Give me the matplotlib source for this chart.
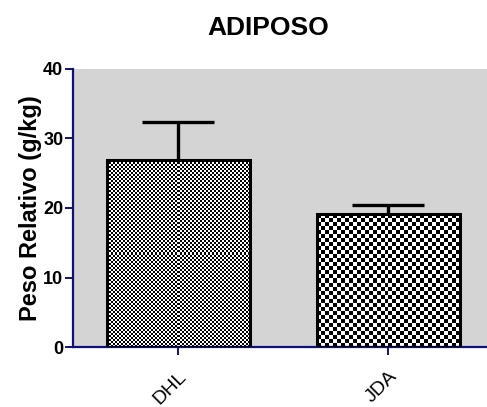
import numpy as np
import matplotlib
matplotlib.use("Agg")
import matplotlib.pyplot as plt

plt.rcParams['font.family'] = ['Liberation Sans', 'DejaVu Sans']

groups = ["DHL", "JDA"]
means = [26.9, 19.1]
errs = [5.5, 1.4]
cells = [2.0, 4.0]   # checker cell size in pixels for each bar

navy = "#10107a"

fig = plt.figure(figsize=(4.87, 4.07), dpi=100)
ax = fig.add_axes([0.150, 0.1474, 0.850, 0.6831])
ax.set_facecolor("#d4d4d4")

x = np.arange(len(groups))
bars = ax.bar(x, means, width=0.68, color="none", edgecolor="black",
              linewidth=2.2, zorder=3)
eb = ax.errorbar(x, means, yerr=[[0, 0], errs], fmt="none", ecolor="black",
                 elinewidth=2.4, capsize=26, capthick=2.4, zorder=4)
eb[1][0].set_visible(False)  # hide lower caps

ax.set_xlim(-0.5, 1.47)
ax.set_ylim(0, 40)
ax.set_yticks([0, 10, 20, 30, 40])

# checkerboard fill, clipped to each bar
fig.canvas.draw()
for b, c in zip(bars, cells):
    x0, y0 = b.get_x(), b.get_y()
    w, h = b.get_width(), b.get_height()
    p0 = ax.transData.transform((x0, y0))
    p1 = ax.transData.transform((x0 + w, y0 + h))
    nx = max(1, int(round(abs(p1[0] - p0[0]) / c)))
    ny = max(1, int(round(abs(p1[1] - p0[1]) / c)))
    pat = (np.add.outer(np.arange(ny), np.arange(nx)) % 2).astype(float)
    ax.imshow(pat, cmap="gray", extent=(x0, x0 + w, y0, y0 + h),
              interpolation="nearest", aspect="auto", zorder=2)
ax.set_xlim(-0.5, 1.47)
ax.set_ylim(0, 40)

for s in ["top", "right"]:
    ax.spines[s].set_visible(False)
for s in ["left", "bottom"]:
    ax.spines[s].set_color(navy)
    ax.spines[s].set_linewidth(1.6)

ax.tick_params(axis="y", colors=navy, length=6, width=1.4, labelcolor="black",
               labelsize=13, pad=1)
ax.tick_params(axis="x", colors=navy, length=6, width=1.4, labelcolor="black",
               labelsize=14, pad=9)
for t in ax.get_yticklabels():
    t.set_fontweight("bold")

ax.set_xticks(x)
ax.set_xticklabels(groups, rotation=45, ha="right", rotation_mode="anchor")
ax.set_ylabel("Peso Relativo (g/kg)", fontsize=17, fontweight="bold", labelpad=1)

fig.text(268 / 487, 1 - 28 / 407, "ADIPOSO", ha="center", va="center",
         fontsize=19, fontweight="bold")

fig.savefig("out.png", dpi=100)
